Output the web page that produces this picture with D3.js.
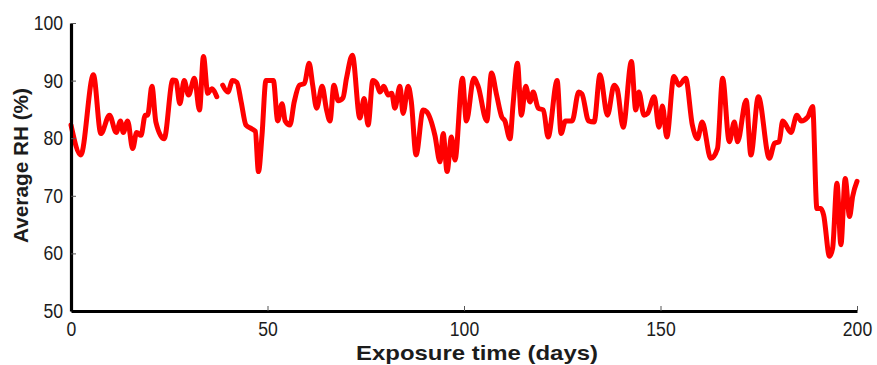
<!DOCTYPE html>
<html>
<head>
<meta charset="utf-8">
<script src="https://cdn.jsdelivr.net/npm/d3@7/dist/d3.min.js"></script>
<style>
  html, body { margin: 0; padding: 0; background: #fff; }
  svg { display: block; }
  text { font-family: "Liberation Sans", Arial, sans-serif; fill: #1c1c1c; }
</style>
</head>
<body>
<svg id="chart" width="877" height="365"></svg>
<script>
// Exposure day of each reading and the average relative humidity (%) at that time.
// A null value marks the short interruption in the record.
const days = [
  0, 2.5, 5.7, 7.6, 9.8, 11.5, 12.6, 13.3, 14.4, 15.7, 16.7, 17.8, 18.9, 19.5,
  20.6, 21.6, 23.7, 25.9, 26.7, 27.7, 28.8, 29.9, 31.4, 32.7, 33.7, 34.8, 35.8,
  37.1, 38, 38.6, 39.9, 41.1, 42.2, 43.3, 44.5, 45.8, 46.9, 47.7, 48.6, 49.6,
  51.5, 52.6, 53.7, 54.5, 55.7, 56.8, 58.1, 59.4, 60.6, 61.5, 62.5, 63.9, 65.0,
  65.9, 66.9, 68.0, 69.2, 70.1, 71.6, 73.5, 74.6, 75.6, 76.8, 77.8, 78.6, 79.6,
  80.7, 81.6, 82.4, 83.7, 84.5, 85.8, 86.6, 87.8, 89.6, 90.5, 92.6, 93.9, 94.7,
  95.7, 96.8, 97.7, 99.6, 100.6, 102.5, 103.6, 105.8, 107.0, 108.3, 109.6,
  110.4, 111.7, 112.5, 113.6, 114.6, 115.7, 116.8, 117.6, 118.9, 120.2, 121.4,
  123.7, 124.7, 125.8, 127.5, 129.2, 130.0, 131.7, 133.1, 134.6, 136.5, 138.2,
  139.0, 140.5, 142.6, 143.7, 144.5, 145.8, 146.7, 148.4, 149.6, 150.5, 151.6,
  153.4, 154.7, 156.4, 158.1, 159.4, 160.6, 162.8, 164.5, 165.8, 167.5, 168.8,
  169.6, 171.8, 173.0, 174.9, 177.7, 179.0, 180.2, 181.1, 183.2, 184.7, 185.8,
  187.5, 188.7, 189.8, 190.8, 191.5, 193.0, 193.8, 194.9, 195.9, 197.0, 198.1,
  198.9, 200
];
const rh = [
  82.3, 77.1, 91.0, 80.8, 84.0, 81.0, 83.0, 81.0, 83.0, 78.2, 81.0, 80.5, 84.0, 84.0,
  89.0, 82.8, 79.9, 90.1, 90.0, 86.0, 90.0, 87.5, 90.4, 84.9, 94.2, 87.8, 88.6,
  87.2, null, 89.2, 88.0, 90.0, 89.7, 86.3, 82.3, 81.7, 81.2, 74.2, 80.5, 90.0,
  90.0, 83.0, 86.0, 83.0, 82.3, 86.3, 89.2, 89.5, 93.0, 89.2, 85.2, 89.0, 85.0,
  83.0, 89.2, 86.5, 87.0, 90.4, 94.4, 83.5, 86.9, 82.3, 90.0, 89.5, 88.0, 89.0,
  87.5, 87.8, 85.2, 89.0, 84.3, 89.0, 86.3, 77.1, 84.9, 84.6, 80.5, 75.9, 80.8,
  74.2, 80.2, 76.2, 90.4, 83.0, 90.4, 89.0, 83.0, 91.3, 87.5, 83.7,
  83.0, 79.9, 86.0, 93.0, 84.0, 89.0, 86.3, 88.0, 85.2, 84.9, 80.2,
  90.0, 80.8, 83.0, 83.0, 88.0, 87.7, 83.0, 82.8, 91.0, 84.0, 89.2,
  88.5, 81.9, 93.3, 84.9, 88.0, 84.0, 84.3, 87.2, 81.9, 85.6, 80.2,
  90.7, 89.2, 90.4, 82.3, 79.9, 82.8, 76.5, 78.2, 90.4, 79.4, 82.8,
  79.4, 86.6, 77.1, 87.2, 76.5, 79.1, 79.4, 83.0, 81.0, 84.0, 83.0,
  83.7, 85.5, 67.8, 67.8, 66.7, 59.5, 60.9, 72.2, 61.5, 73.0, 66.4,
  69.9, 72.5
];

const xTicks = [0, 50, 100, 150, 200];
const yTicks = [50, 60, 70, 80, 90, 100];
const xTitle = "Exposure time (days)";
const yTitle = "Average RH (%)";

const svg = d3.select("#chart");
const plotLeft = 71, plotRight = 857, plotTop = 23, plotBottom = 311;

const x = d3.scaleLinear().domain([0, 200]).range([plotLeft, plotRight]);
const y = d3.scaleLinear().domain([50, 100]).range([plotBottom, plotTop]);

const series = days.map((d, i) => ({ day: d, value: rh[i] }));

// Humidity trace
const line = d3.line()
  .defined(d => d.value != null)
  .curve(d3.curveMonotoneX)
  .x(d => x(d.day))
  .y(d => y(d.value));

svg.append("path")
  .datum(series)
  .attr("d", line)
  .attr("fill", "none")
  .attr("stroke", "#ff0000")
  .attr("stroke-width", 5)
  .attr("stroke-linejoin", "round")
  .attr("stroke-linecap", "round");

// Axes: ticks point into the plotting area
const yAxis = svg.append("g")
  .attr("transform", `translate(${plotLeft},0)`)
  .call(d3.axisLeft(y).tickValues(yTicks).tickSizeInner(-5).tickSizeOuter(0).tickPadding(8));

const xAxis = svg.append("g")
  .attr("transform", `translate(0,${plotBottom})`)
  .call(d3.axisBottom(x).tickValues(xTicks).tickSizeInner(-5).tickSizeOuter(0).tickPadding(11));

[yAxis, xAxis].forEach(g => {
  g.select(".domain").attr("stroke", "#000").attr("stroke-width", 3.2);
  g.selectAll(".tick line").attr("stroke", "#555").attr("stroke-width", 1);
  g.selectAll(".tick text")
    .attr("fill", "#1c1c1c")
    .style("font-size", "20px");
});
xAxis.selectAll(".tick").filter(d => d === 0).select("line").remove();

// Narrow the tick numerals
svg.selectAll(".tick text").each(function () {
  const w = this.getComputedTextLength();
  d3.select(this).attr("textLength", w * 0.88).attr("lengthAdjust", "spacingAndGlyphs");
});

// Axis titles
svg.append("text")
  .attr("x", 477)
  .attr("y", 360)
  .attr("text-anchor", "middle")
  .style("font-size", "21px")
  .style("font-weight", "bold")
  .attr("textLength", 242)
  .attr("lengthAdjust", "spacingAndGlyphs")
  .text(xTitle);

svg.append("text")
  .attr("transform", `translate(28,${(88 + 243) / 2}) rotate(-90)`)
  .attr("text-anchor", "middle")
  .style("font-size", "20px")
  .style("font-weight", "bold")
  .attr("textLength", 155)
  .attr("lengthAdjust", "spacingAndGlyphs")
  .text(yTitle);
</script>
</body>
</html>
